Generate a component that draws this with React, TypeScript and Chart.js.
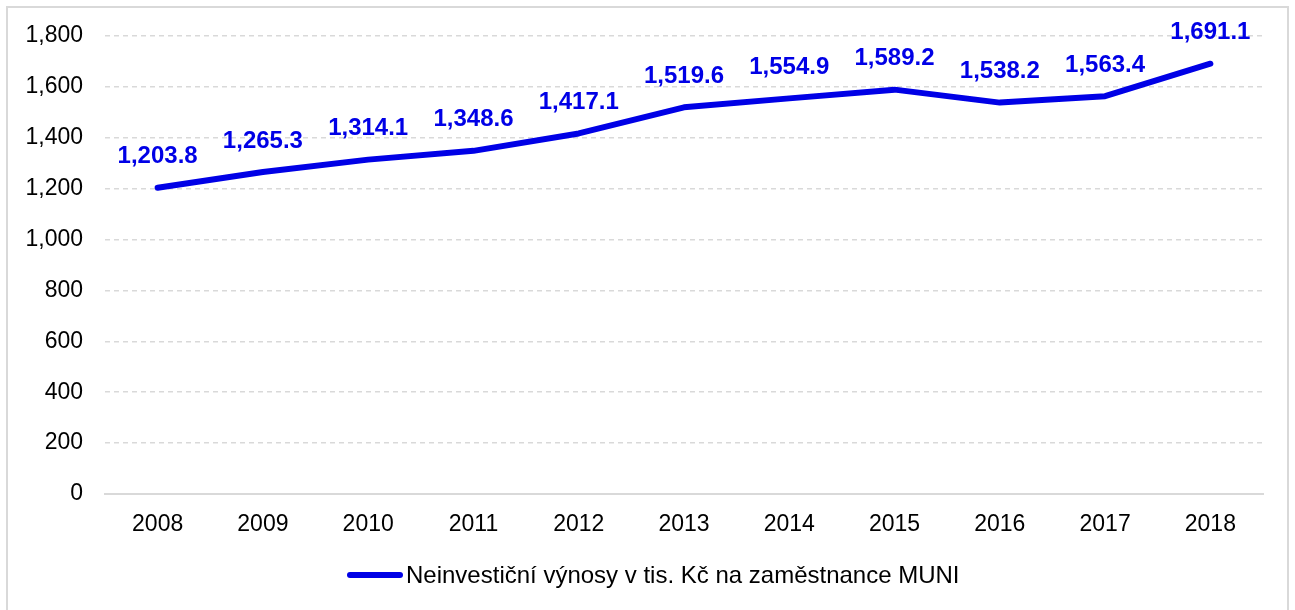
import { useEffect, useRef } from "react";
import { Chart, registerables } from "chart.js";

Chart.register(...registerables);

const years = ["2008", "2009", "2010", "2011", "2012", "2013", "2014", "2015", "2016", "2017", "2018"];
const values = [1203.8, 1265.3, 1314.1, 1348.6, 1417.1, 1519.6, 1554.9, 1589.2, 1538.2, 1563.4, 1691.1];
const seriesLabel = "Neinvestiční výnosy v tis. Kč na zaměstnance MUNI";
const yMin = 0;
const yMax = 1800;
const yStep = 200;

const BLUE = "rgb(0,0,230)";
const GRID = "#d9d9d9";
const TEXT = "#000000";
const FONT = '"Liberation Sans", Arial, sans-serif';

const fmtLabel = (v: number) =>
  v.toLocaleString("en-US", { minimumFractionDigits: 1, maximumFractionDigits: 1 });

const dataLabelPlugin = {
  id: "dataLabels",
  afterDatasetsDraw(chart: any) {
    const ctx = chart.ctx;
    const meta = chart.getDatasetMeta(0);
    ctx.save();
    ctx.font = `bold 24px ${FONT}`;
    ctx.fillStyle = BLUE;
    ctx.textAlign = "center";
    ctx.textBaseline = "middle";
    meta.data.forEach((pt: any, i: number) => {
      ctx.fillText(fmtLabel(values[i]), pt.x, pt.y - 31);
    });
    ctx.restore();
  },
};

const legendPlugin = {
  id: "customLegend",
  afterDraw(chart: any) {
    const ctx = chart.ctx;
    const ds = chart.data.datasets[0];
    const y = 575;
    const x0 = 350;
    const x1 = 400;
    ctx.save();
    ctx.strokeStyle = ds.borderColor;
    ctx.lineWidth = ds.borderWidth;
    ctx.lineCap = "round";
    ctx.beginPath();
    ctx.moveTo(x0, y);
    ctx.lineTo(x1, y);
    ctx.stroke();
    ctx.font = `24px ${FONT}`;
    ctx.fillStyle = TEXT;
    ctx.textAlign = "left";
    ctx.textBaseline = "alphabetic";
    ctx.fillText(ds.label, 406, 583);
    ctx.restore();
  },
};

export default function App() {
  const ref = useRef<HTMLCanvasElement | null>(null);

  useEffect(() => {
    if (!ref.current) return;
    const chart = new Chart(ref.current, {
      type: "line",
      data: {
        labels: years,
        datasets: [
          {
            label: seriesLabel,
            data: values,
            borderColor: BLUE,
            backgroundColor: BLUE,
            borderWidth: 6,
            borderCapStyle: "round",
            borderJoinStyle: "round",
            pointRadius: 0,
            pointHoverRadius: 0,
            tension: 0,
            fill: false,
          },
        ],
      },
      options: {
        responsive: false,
        animation: false,
        layout: { padding: { left: 0, right: 32, top: 36, bottom: 56 } },
        plugins: {
          legend: { display: false },
          tooltip: { enabled: false },
          title: { display: false },
        },
        scales: {
          x: {
            offset: true,
            grid: { display: false },
            border: { display: true, color: GRID, width: 2 },
            ticks: {
              color: TEXT,
              font: { family: FONT, size: 23 },
              padding: 9,
              maxRotation: 0,
            },
            afterFit(scale: any) {
              scale.height = 60;
            },
          },
          y: {
            min: yMin,
            max: yMax,
            grid: {
              color: GRID,
              lineWidth: 1.5,
              drawTicks: false,
            },
            border: {
              display: false,
              dash: (c: any) => (c.tick && c.tick.value === 0 ? [] : [5, 4]),
            },
            ticks: {
              stepSize: yStep,
              color: TEXT,
              font: { family: FONT, size: 23 },
              padding: 22,
              callback: (v: any) => Number(v).toLocaleString("en-US"),
            },
            afterFit(scale: any) {
              scale.width = 105;
            },
          },
        },
      },
      plugins: [dataLabelPlugin, legendPlugin],
    });
    return () => chart.destroy();
  }, []);

  return (
    <div
      style={{
        position: "absolute",
        left: 0,
        top: 0,
        width: 1295,
        height: 610,
        overflow: "hidden",
        background: "#fff",
      }}
    >
      <div
        style={{
          position: "absolute",
          left: 6,
          top: 6,
          width: 1283,
          height: 700,
          boxSizing: "border-box",
          border: `2px solid ${GRID}`,
        }}
      />
      <canvas
        ref={ref}
        width={1295}
        height={610}
        style={{ position: "absolute", left: 0, top: 0, width: 1295, height: 610 }}
      />
    </div>
  );
}
